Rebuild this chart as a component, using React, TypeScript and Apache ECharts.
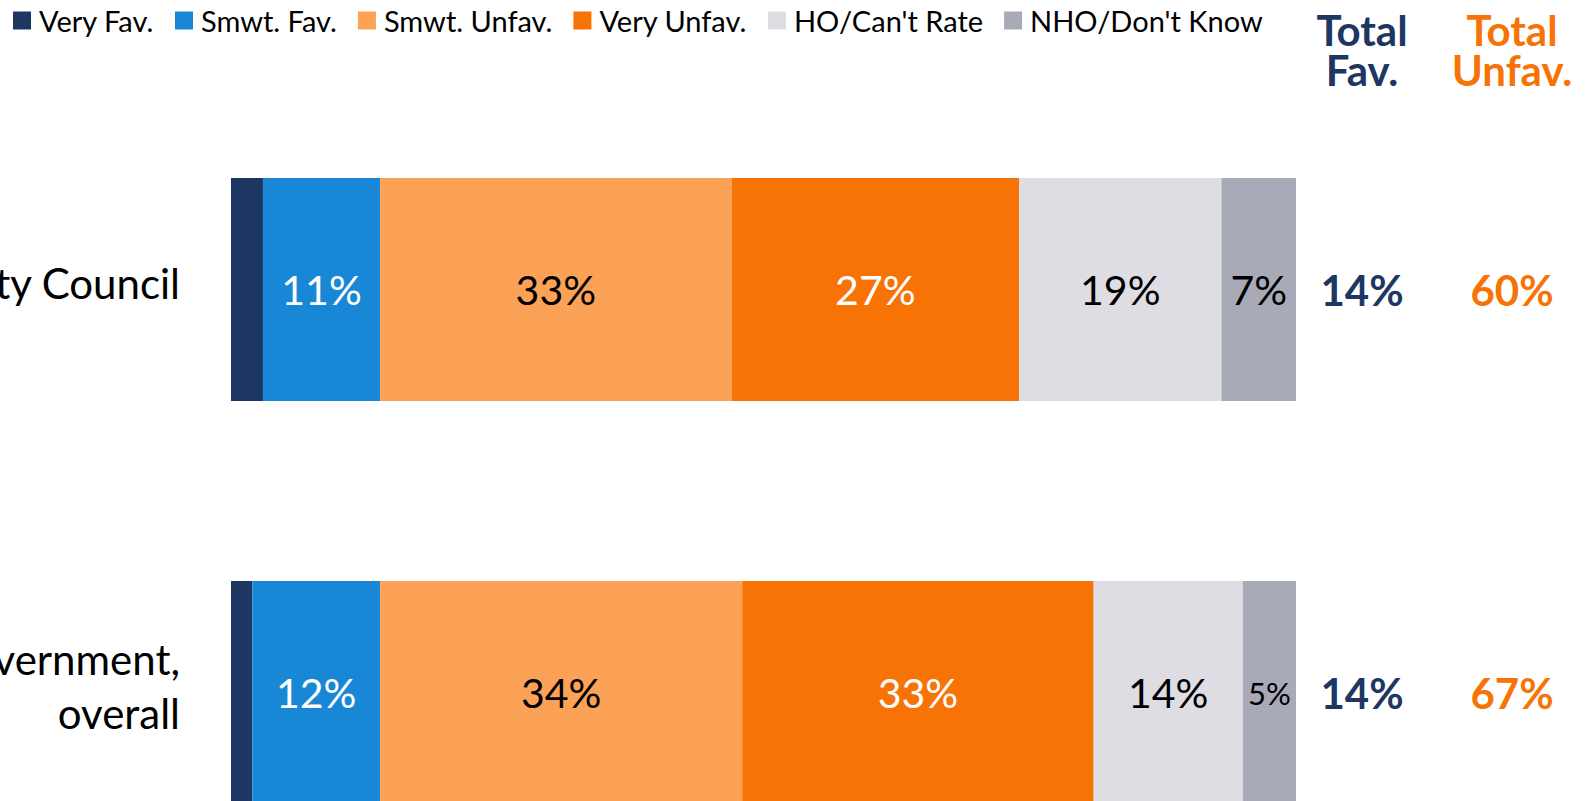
import React, { useEffect, useRef } from "react";
import * as echarts from "echarts";

const categories = ["City Council", "City Government,\noverall"];
const seriesNames = ["Very Fav.", "Smwt. Fav.", "Smwt. Unfav.", "Very Unfav.", "HO/Can't Rate", "NHO/Don't Know"];
const veryFav = [3, 2];
const smwtFav = [11, 12];
const smwtUnfav = [33, 34];
const veryUnfav = [27, 33];
const hoCantRate = [19, 14];
const nhoDontKnow = [7, 5];
const totalColumns = ["Total\nFav.", "Total\nUnfav."];
const totalFav = [14, 14];
const totalUnfav = [60, 67];

const colors = ["#1D3762", "#1888D6", "#FBA257", "#F87306", "#DEDDE3", "#A9AAB7"];
const labelColors = ["#ffffff", "#ffffff", "#000000", "#ffffff", "#000000", "#000000"];
const FONT = "Lato";

export default function App() {
  const ref = useRef<HTMLDivElement>(null);
  useEffect(() => {
    if (!ref.current) return;
    const chart = echarts.init(ref.current, null, { renderer: "svg" });
    const allValues = [veryFav, smwtFav, smwtUnfav, veryUnfav, hoCantRate, nhoDontKnow];
    const barSeries = allValues.map((vals, si) => ({
      name: seriesNames[si],
      type: "bar",
      stack: "total",
      xAxisIndex: 0,
      yAxisIndex: 0,
      barWidth: 223,
      itemStyle: { color: colors[si] },
      label: {
        show: si !== 0,
        position: "inside",
        color: labelColors[si],
        fontFamily: FONT,
        fontSize: 41,
        formatter: (p: any) => p.value + "%",
      },
      data: vals.map((v) => (v < 6 ? { value: v, label: { fontSize: 31 } } : { value: v })),
    }));
    const totalSeries = [totalFav, totalUnfav].map((vals, ci) => ({
      name: totalColumns[ci],
      type: "scatter",
      xAxisIndex: 1,
      yAxisIndex: 1,
      symbolSize: 1,
      itemStyle: { color: "rgba(0,0,0,0)", opacity: 1 },
      label: {
        show: true,
        position: "inside",
        fontFamily: FONT,
        fontWeight: "bold",
        fontSize: 42,
        opacity: 1,
        color: ci === 0 ? "#1D3762" : "#F87306",
        formatter: (p: any) => p.value[2] + "%",
      },
      data: vals.map((v, i) => [ci, i, v]),
    }));
    chart.setOption({
      animation: false,
      textStyle: { fontFamily: FONT },
      legend: {
        left: 8,
        top: 1,
        itemWidth: 18,
        itemHeight: 18,
        itemGap: 21,
        icon: "rect",
        textStyle: { fontSize: 29, color: "#000", fontFamily: FONT, padding: [0, 0, 0, 3] },
        data: seriesNames,
      },
      grid: [
        { left: 231, right: 297, top: 88, bottom: -93, outerBoundsMode: "none", containLabel: false },
        { left: 1287, right: 6, top: 88, bottom: -93, outerBoundsMode: "none", containLabel: false },
      ],
      xAxis: [
        { type: "value", gridIndex: 0, min: 0, max: 100, show: false },
        {
          type: "category",
          gridIndex: 1,
          position: "top",
          data: totalColumns,
          axisLine: { show: false },
          axisTick: { show: false },
          axisLabel: {
            margin: -2,
            interval: 0,
            formatter: (v: string, i: number) => (i === 0 ? "{a|" + v.replace("\n", "}\n{a|") + "}" : "{b|" + v.replace("\n", "}\n{b|") + "}"),
            rich: {
              a: { color: "#1D3762", fontSize: 42, fontWeight: "bold", fontFamily: FONT, lineHeight: 40, align: "center" },
              b: { color: "#F87306", fontSize: 42, fontWeight: "bold", fontFamily: FONT, lineHeight: 40, align: "center" },
            },
          },
        },
      ],
      yAxis: [
        {
          type: "category",
          gridIndex: 0,
          inverse: true,
          data: categories,
          axisLine: { show: false },
          axisTick: { show: false },
          axisLabel: {
            margin: 51,
            color: "#000",
            align: "right",
            formatter: (v: string) => v.split("\n").map((l) => "{t|" + l + "}").join("\n") + "\n{s|}",
            rich: {
              t: { fontSize: 42, lineHeight: 54, fontFamily: FONT, color: "#000", align: "right" },
              s: { fontSize: 1, lineHeight: 14, align: "right" },
            },
          },
        },
        { type: "category", gridIndex: 1, inverse: true, data: categories, show: false },
      ],
      series: [...barSeries, ...totalSeries],
    });
    return () => chart.dispose();
  }, []);
  return <div ref={ref} style={{ position: "absolute", left: 0, top: 0, width: 1593, height: 801 }} />;
}
